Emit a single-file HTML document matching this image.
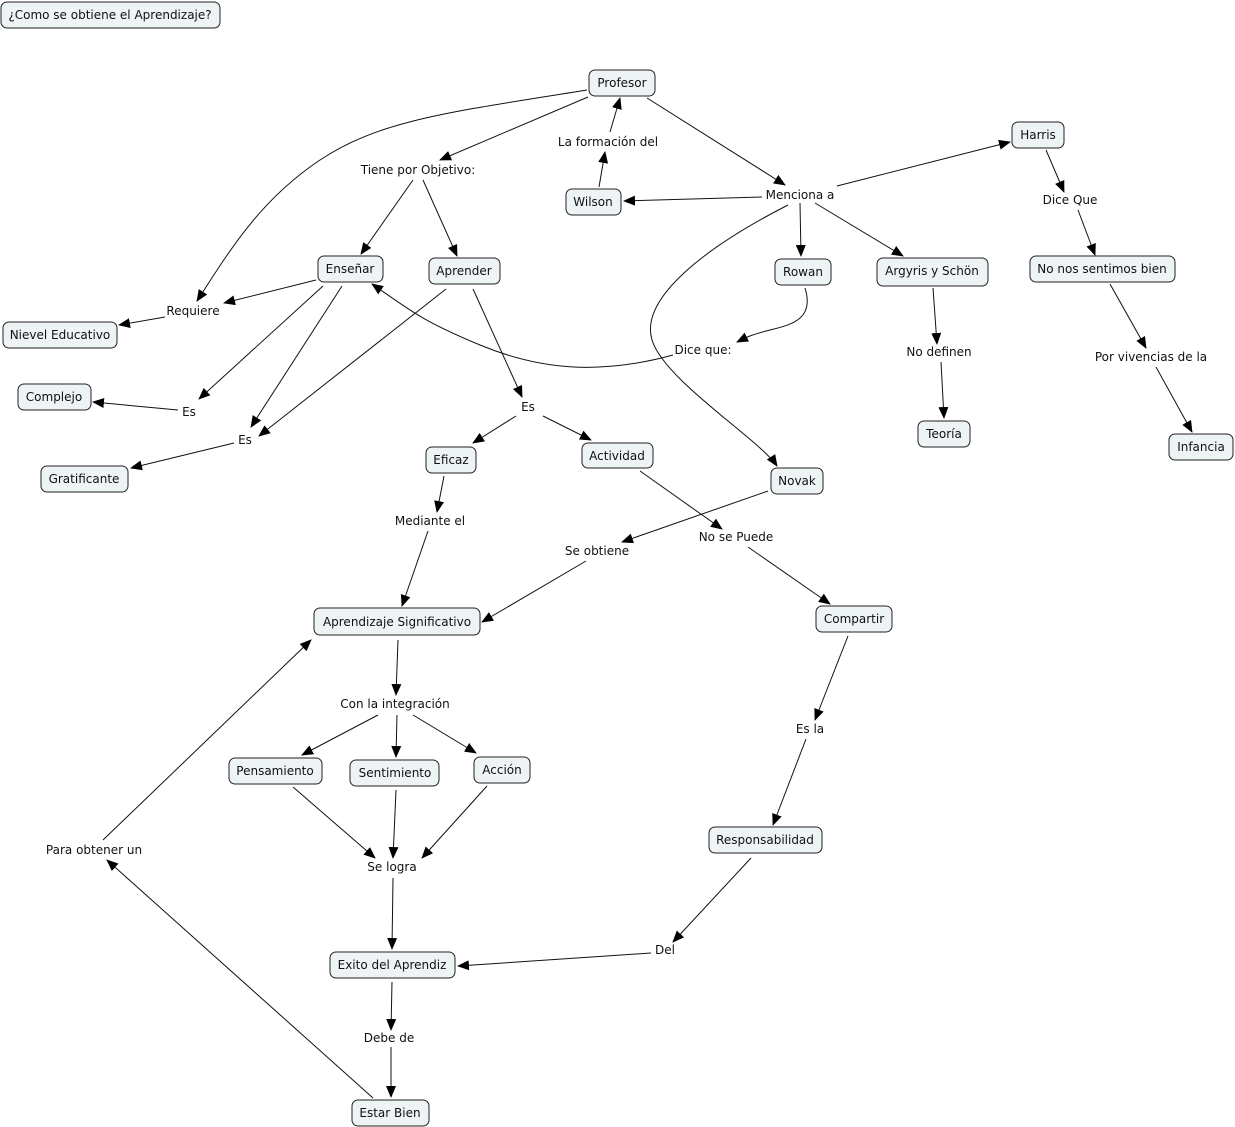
<!DOCTYPE html>
<html><head><meta charset="utf-8"><style>
html,body{margin:0;padding:0;background:#fff;}
svg{display:block;}
text{font-family:"DejaVu Sans","Liberation Sans",sans-serif;font-size:12px;fill:#111;}
rect{fill:#eef3f5;stroke:#222;stroke-width:1;}
line,path{stroke:#111;stroke-width:1;fill:none;}
</style></head><body>
<svg width="1235" height="1127" viewBox="0 0 1235 1127" xmlns="http://www.w3.org/2000/svg">
<defs><marker id="a" viewBox="0 0 12 10" refX="11" refY="5" markerWidth="12" markerHeight="10" markerUnits="userSpaceOnUse" orient="auto"><path d="M0,0 L12,5 L0,10 Z" style="fill:#000;stroke:none"/></marker></defs>
<g marker-end="url(#a)">
<line x1="588" y1="97" x2="440" y2="160"/>
<path d="M587,90 C450,112 380,120 320,160 S230,250 197,301"/>
<line x1="413" y1="180" x2="361" y2="254"/>
<line x1="423" y1="180" x2="457" y2="256"/>
<line x1="599" y1="187" x2="605" y2="152"/>
<line x1="610" y1="132" x2="620" y2="98"/>
<line x1="647" y1="98" x2="785" y2="185"/>
<line x1="762" y1="197" x2="624" y2="201"/>
<line x1="837" y1="186" x2="1010" y2="142"/>
<line x1="800" y1="203" x2="801" y2="256"/>
<line x1="815" y1="203" x2="903" y2="256"/>
<path d="M788,205 C700,250 640,300 652,340 S760,440 777,466"/>
<line x1="1046" y1="150" x2="1064" y2="192"/>
<line x1="1078" y1="210" x2="1095" y2="255"/>
<line x1="1110" y1="284" x2="1146" y2="348"/>
<line x1="1156" y1="367" x2="1192" y2="432"/>
<line x1="933" y1="288" x2="937" y2="344"/>
<line x1="941" y1="362" x2="944" y2="418"/>
<path d="M805,288 C815,320 790,325 770,330 S745,338 737,342"/>
<path d="M673,355 C600,375 540,370 480,345 S410,310 372,284"/>
<line x1="316" y1="280" x2="224" y2="303"/>
<line x1="165" y1="317" x2="119" y2="325"/>
<line x1="323" y1="286" x2="199" y2="399"/>
<line x1="178" y1="410" x2="93" y2="402"/>
<line x1="342" y1="286" x2="251" y2="427"/>
<line x1="446" y1="289" x2="259" y2="436"/>
<line x1="234" y1="443" x2="131" y2="468"/>
<line x1="473" y1="289" x2="522" y2="397"/>
<line x1="516" y1="416" x2="473" y2="443"/>
<line x1="543" y1="416" x2="591" y2="440"/>
<line x1="444" y1="476" x2="437" y2="512"/>
<line x1="428" y1="531" x2="402" y2="606"/>
<line x1="640" y1="471" x2="722" y2="529"/>
<line x1="768" y1="491" x2="622" y2="542"/>
<line x1="586" y1="561" x2="482" y2="622"/>
<line x1="748" y1="547" x2="830" y2="604"/>
<line x1="848" y1="636" x2="815" y2="720"/>
<line x1="806" y1="739" x2="773" y2="825"/>
<line x1="751" y1="858" x2="673" y2="942"/>
<line x1="651" y1="953" x2="458" y2="966"/>
<line x1="398" y1="640" x2="396" y2="695"/>
<line x1="378" y1="715" x2="302" y2="755"/>
<line x1="397" y1="715" x2="396" y2="757"/>
<line x1="413" y1="715" x2="476" y2="753"/>
<line x1="293" y1="787" x2="375" y2="858"/>
<line x1="396" y1="790" x2="393" y2="858"/>
<line x1="487" y1="786" x2="422" y2="858"/>
<line x1="393" y1="878" x2="392" y2="949"/>
<line x1="392" y1="982" x2="391" y2="1030"/>
<line x1="391" y1="1047" x2="391" y2="1097"/>
<line x1="373" y1="1098" x2="107" y2="860"/>
<line x1="103" y1="840" x2="311" y2="640"/>
</g>
<g>
<rect x="1" y="2" width="219" height="26" rx="6"/>
<rect x="589" y="70" width="66" height="26" rx="6"/>
<rect x="1012" y="122" width="52" height="26" rx="6"/>
<rect x="566" y="189" width="55" height="26" rx="6"/>
<rect x="318" y="256" width="65" height="26" rx="6"/>
<rect x="429" y="258" width="71" height="26" rx="6"/>
<rect x="775" y="259" width="56" height="26" rx="6"/>
<rect x="877" y="258" width="111" height="28" rx="6"/>
<rect x="1030" y="256" width="145" height="26" rx="6"/>
<rect x="3" y="322" width="114" height="26" rx="6"/>
<rect x="18" y="384" width="73" height="26" rx="6"/>
<rect x="918" y="421" width="52" height="26" rx="6"/>
<rect x="1169" y="434" width="64" height="26" rx="6"/>
<rect x="426" y="447" width="50" height="26" rx="6"/>
<rect x="582" y="443" width="71" height="25" rx="6"/>
<rect x="771" y="468" width="52" height="26" rx="6"/>
<rect x="41" y="466" width="87" height="26" rx="6"/>
<rect x="314" y="608" width="166" height="27" rx="6"/>
<rect x="816" y="606" width="76" height="26" rx="6"/>
<rect x="229" y="758" width="93" height="26" rx="6"/>
<rect x="350" y="760" width="89" height="26" rx="6"/>
<rect x="474" y="757" width="56" height="26" rx="6"/>
<rect x="709" y="827" width="113" height="26" rx="6"/>
<rect x="330" y="952" width="125" height="26" rx="6"/>
<rect x="352" y="1100" width="77" height="26" rx="6"/>
</g>
<g text-anchor="middle">
<text x="110" y="19">¿Como se obtiene el Aprendizaje?</text>
<text x="622" y="87">Profesor</text>
<text x="1038" y="139">Harris</text>
<text x="593" y="206">Wilson</text>
<text x="350" y="273">Enseñar</text>
<text x="464" y="275">Aprender</text>
<text x="803" y="276">Rowan</text>
<text x="932" y="275">Argyris y Schön</text>
<text x="1102" y="273">No nos sentimos bien</text>
<text x="60" y="339">Nievel Educativo</text>
<text x="54" y="401">Complejo</text>
<text x="944" y="438">Teoría</text>
<text x="1201" y="451">Infancia</text>
<text x="451" y="464">Eficaz</text>
<text x="617" y="460">Actividad</text>
<text x="797" y="485">Novak</text>
<text x="84" y="483">Gratificante</text>
<text x="397" y="626">Aprendizaje Significativo</text>
<text x="854" y="623">Compartir</text>
<text x="275" y="775">Pensamiento</text>
<text x="395" y="777">Sentimiento</text>
<text x="502" y="774">Acción</text>
<text x="765" y="844">Responsabilidad</text>
<text x="392" y="969">Exito del Aprendiz</text>
<text x="390" y="1117">Estar Bien</text>

<text x="418" y="174">Tiene por Objetivo:</text>
<text x="608" y="146">La formación del</text>
<text x="800" y="199">Menciona a</text>
<text x="1070" y="204">Dice Que</text>
<text x="193" y="315">Requiere</text>
<text x="189" y="416">Es</text>
<text x="245" y="444">Es</text>
<text x="703" y="354">Dice que:</text>
<text x="939" y="356">No definen</text>
<text x="1151" y="361">Por vivencias de la</text>
<text x="528" y="411">Es</text>
<text x="430" y="525">Mediante el</text>
<text x="597" y="555">Se obtiene</text>
<text x="736" y="541">No se Puede</text>
<text x="395" y="708">Con la integración</text>
<text x="810" y="733">Es la</text>
<text x="94" y="854">Para obtener un</text>
<text x="392" y="871">Se logra</text>
<text x="665" y="954">Del</text>
<text x="389" y="1042">Debe de</text>
</g>
</svg>
</body></html>
